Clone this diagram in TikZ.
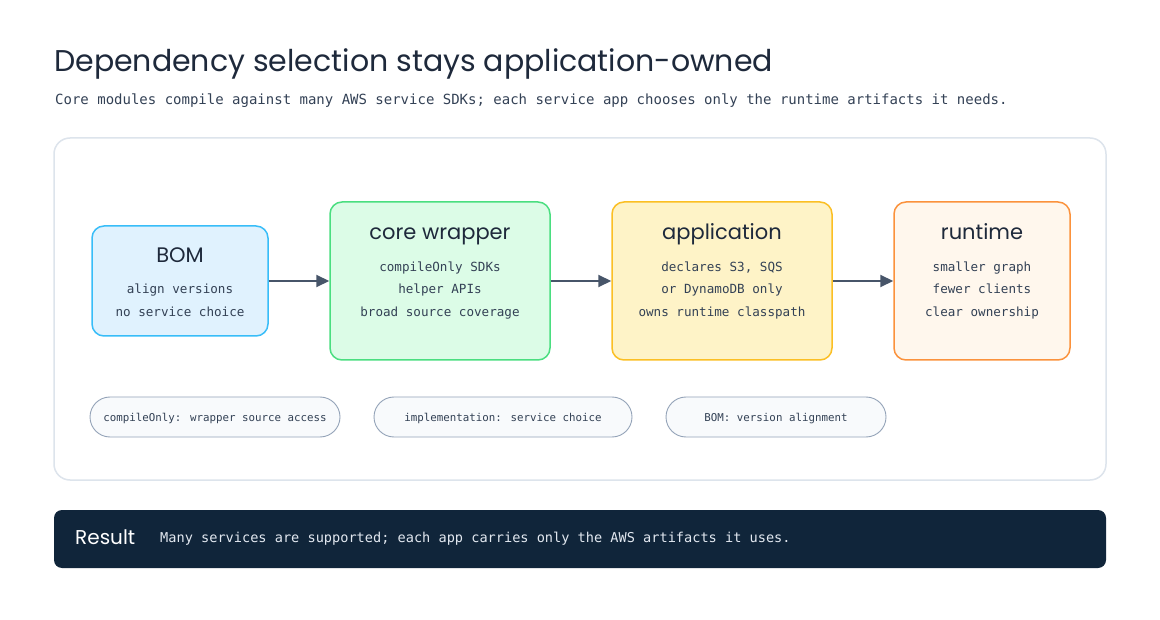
\documentclass[tikz,border=0pt]{standalone}
\usepackage{fontspec}
\setmainfont{DejaVu Sans Mono}
\newfontfamily\hand{Poppins}
\newfontfamily\mono{DejaVu Sans Mono}
\usetikzlibrary{arrows.meta}
\definecolor{ink}{HTML}{1E293B}
\definecolor{sub}{HTML}{334155}
\definecolor{panelline}{HTML}{DDE4EC}
\definecolor{bomfill}{HTML}{E0F2FE}
\definecolor{bomline}{HTML}{38BDF8}
\definecolor{corefill}{HTML}{DCFCE7}
\definecolor{coreline}{HTML}{4ADE80}
\definecolor{appfill}{HTML}{FEF3C7}
\definecolor{appline}{HTML}{FBBF24}
\definecolor{rtfill}{HTML}{FFF7ED}
\definecolor{rtline}{HTML}{FB923C}
\definecolor{arrowc}{HTML}{475569}
\definecolor{pillfill}{HTML}{F8FAFC}
\definecolor{pillline}{HTML}{94A3B8}
\definecolor{bar}{HTML}{10253A}
\definecolor{bartext}{HTML}{E2E8F0}
\begin{document}
\begin{tikzpicture}[x=1pt,y=-1pt,
  box/.style={draw, line width=1.5pt, rounded corners=12pt, inner sep=0pt},
  boxtitle/.style={text=ink, font=\hand\fontsize{21}{24}\selectfont, anchor=base, inner sep=0pt},
  boxtext/.style={text=sub, font=\mono\fontsize{12.6}{22.5}\selectfont, align=center, anchor=base, inner sep=0pt},
  arr/.style={draw=arrowc, line width=2pt, -{Triangle[length=13pt,width=12pt]}},
  pill/.style={draw=pillline, fill=pillfill, line width=0.9pt, rounded corners=20pt, minimum height=40pt, inner sep=0pt, text depth=0pt, text=sub, font=\mono\fontsize{10.8}{13}\selectfont}
]
\useasboundingbox (0,0) rectangle (1160,620);
\fill[white] (0,0) rectangle (1160,620);

\node[anchor=base west, inner sep=0pt, text=ink, font=\hand\fontsize{30}{34}\selectfont] (title) at (54,72) {Dependency selection stays application-owned};
\node[anchor=base west, inner sep=0pt, text=sub, font=\mono\fontsize{14}{18}\selectfont] (subtitle) at (55,105) {Core modules compile against many AWS service SDKs; each service app chooses only the runtime artifacts it needs.};

\node[draw=panelline, fill=white, line width=1.5pt, rounded corners=16pt, minimum width=1052pt, minimum height=342pt, inner sep=0pt] (panel) at (580,309) {};

\node[box, fill=bomfill, draw=bomline, minimum width=176pt, minimum height=110pt] (bom) at (180,281) {};
\node[box, fill=corefill, draw=coreline, minimum width=220pt, minimum height=158pt] (core) at (440,281) {};
\node[box, fill=appfill, draw=appline, minimum width=220pt, minimum height=158pt] (app) at (722,281) {};
\node[box, fill=rtfill, draw=rtline, minimum width=176pt, minimum height=158pt] (rt) at (982,281) {};

\node[boxtitle] (bomt) at (180,263) {BOM};
\node[boxtext] (bomx) at (180,316.5) {align versions\\no service choice};
\node[boxtitle] (coret) at (440,240) {core wrapper};
\node[boxtext] (corex) at (440,316.5) {compileOnly SDKs\\helper APIs\\broad source coverage};
\node[boxtitle] (appt) at (722,240) {application};
\node[boxtext] (appx) at (722,316.5) {declares S3, SQS\\or DynamoDB only\\owns runtime classpath};
\node[boxtitle] (rtt) at (982,240) {runtime};
\node[boxtext] (rtx) at (982,316.5) {smaller graph\\fewer clients\\clear ownership};

\draw[arr] (bom.east) -- (core.west);
\draw[arr] (core.east) -- (app.west);
\draw[arr] (app.east) -- (rt.west);

\node[pill, minimum width=250pt] (p1) at (215,417) {compileOnly: wrapper source access};
\node[pill, minimum width=258pt] (p2) at (503,417) {implementation: service choice};
\node[pill, minimum width=220pt] (p3) at (776,417) {BOM: version alignment};

\node[fill=bar, rounded corners=8pt, minimum width=1052pt, minimum height=58pt, inner sep=0pt] (result) at (580,539) {};
\node[anchor=west, inner sep=0pt, text=white, font=\hand\fontsize{20}{22}\selectfont] (rlabel) at (75,537) {Result};
\node[anchor=west, inner sep=0pt, text=bartext, font=\mono\fontsize{13.6}{16}\selectfont] (rtext) at (160,539) {Many services are supported; each app carries only the AWS artifacts it uses.};
\end{tikzpicture}
\end{document}
